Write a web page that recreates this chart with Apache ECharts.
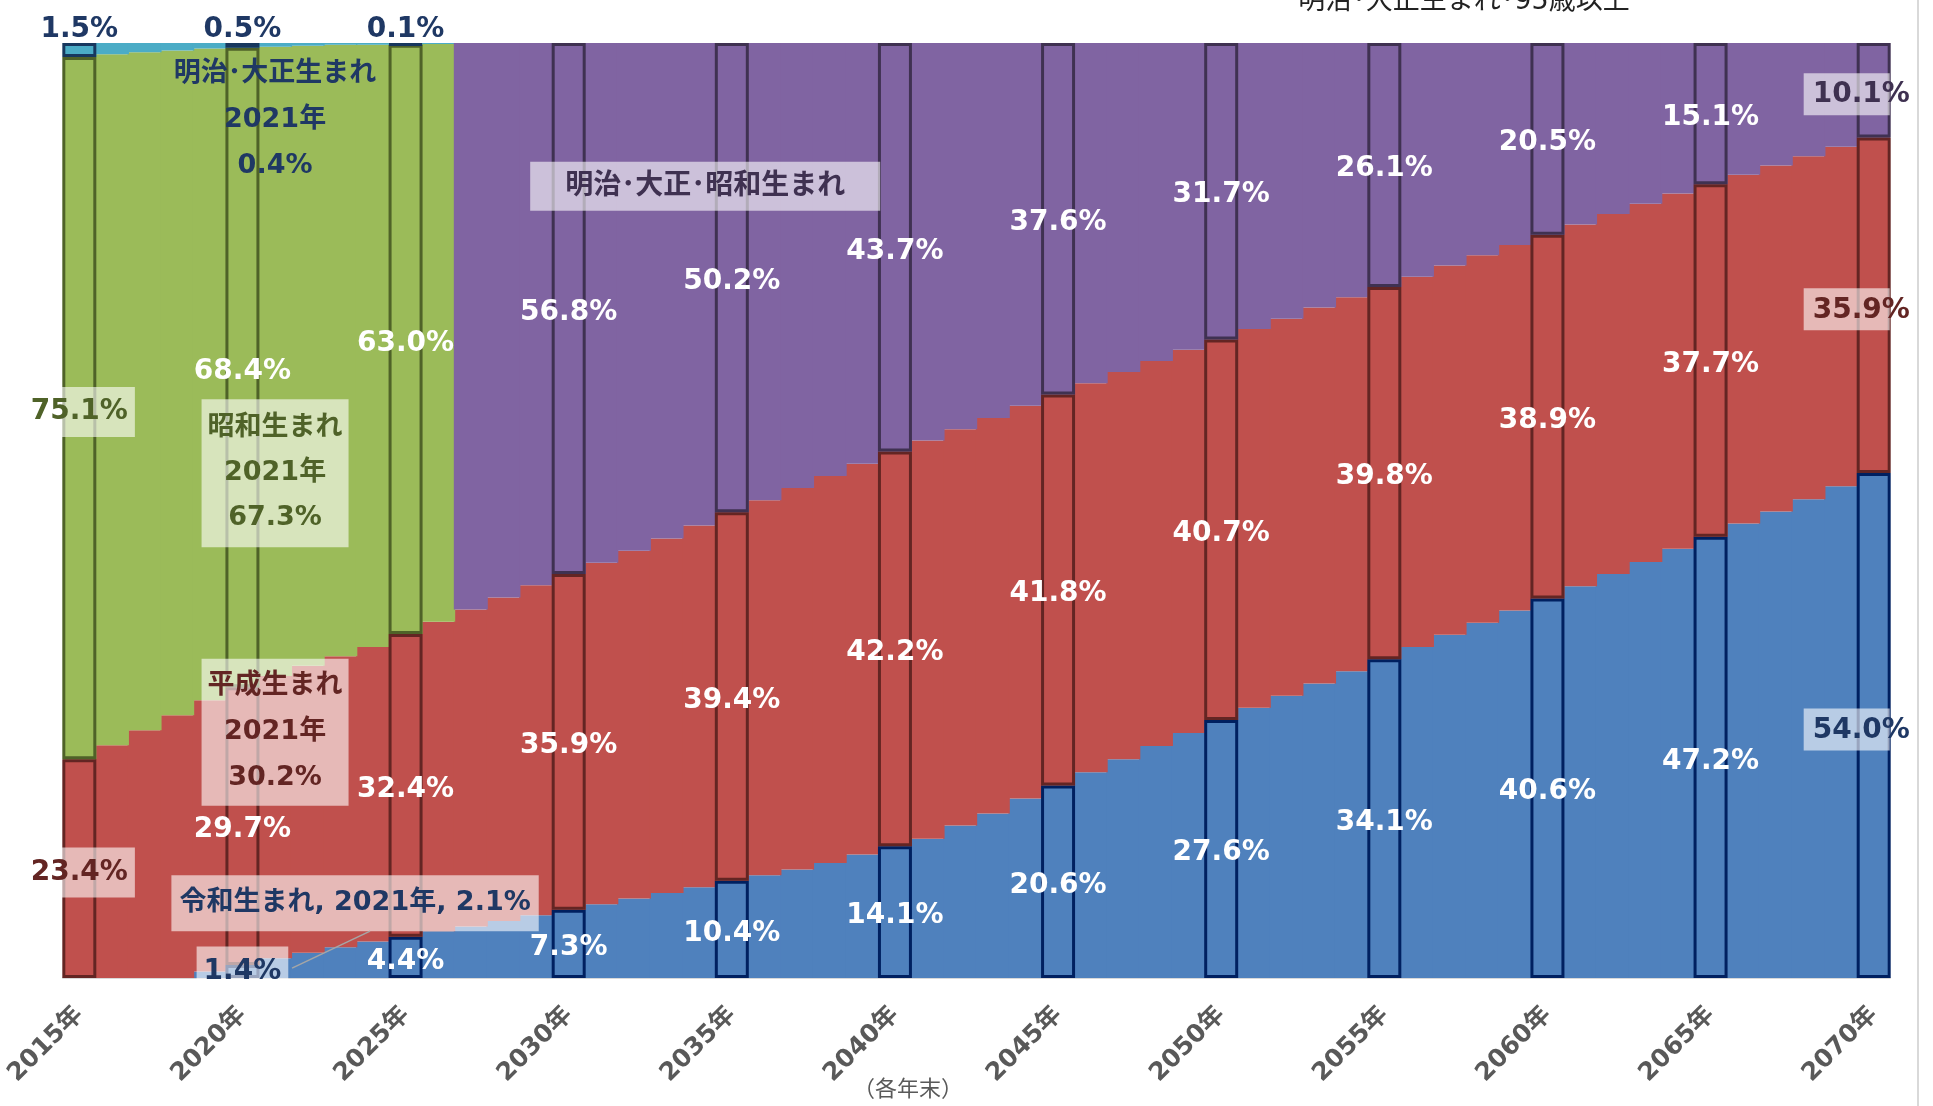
<!DOCTYPE html>
<html><head><meta charset="utf-8">
<script src="https://cdn.jsdelivr.net/npm/echarts@6/dist/echarts.min.js"></script>
<style>html,body{margin:0;padding:0;background:#fff;}#c{width:1933px;height:1106px;}</style>
</head><body><div id="c"></div>
<script>
const years = ['2015年','2016年','2017年','2018年','2019年','2020年','2021年','2022年','2023年','2024年',
 '2025年','2026年','2027年','2028年','2029年','2030年','2031年','2032年','2033年','2034年',
 '2035年','2036年','2037年','2038年','2039年','2040年','2041年','2042年','2043年','2044年',
 '2045年','2046年','2047年','2048年','2049年','2050年','2051年','2052年','2053年','2054年',
 '2055年','2056年','2057年','2058年','2059年','2060年','2061年','2062年','2063年','2064年',
 '2065年','2066年','2067年','2068年','2069年','2070年'];

const reiwa = [null,null,null,null,0.7, 1.4,2.1,2.7,3.3,3.9, 4.4,5.0,5.5,6.1,6.7, 7.3,7.9,8.5,9.1,9.7,
 10.4,11.0,11.6,12.3,13.2, 14.1,14.9,16.3,17.6,19.2, 20.6,22.0,23.4,24.8,26.2, 27.6,28.9,30.2,31.5,32.8,
 34.1,35.4,36.7,38.0,39.3, 40.6,41.9,43.2,44.5,45.9, 47.2,48.6,49.9,51.2,52.6, 54.0];

const heisei = [23.4,24.9,26.5,28.1,29.0, 29.7,30.2,30.7,31.1,31.5, 32.4,33.1,33.9,34.6,35.3, 35.9,36.5,37.2,37.9,38.7,
 39.4,40.1,40.8,41.4,41.8, 42.2,42.6,42.4,42.3,42.0, 41.8,41.6,41.4,41.2,41.0, 40.7,40.5,40.3,40.2,40.0,
 39.8,39.6,39.5,39.3,39.1, 38.9,38.7,38.5,38.3,38.0, 37.7,37.3,37.0,36.7,36.3, 35.9];

const showa = [75.1,73.9,72.5,71.1,69.7, 68.4,67.3,66.3,65.4,64.4, 63.0,61.8,null,null,null, null,null,null,null,null,
 null,null,null,null,null, null,null,null,null,null, null,null,null,null,null, null,null,null,null,null,
 null,null,null,null,null, null,null,null,null,null, null,null,null,null,null, null];

const meijiTaisho = [1.5,1.2,1.0,0.8,0.6, 0.5,0.4,0.3,0.2,0.2, 0.1,0.1,null,null,null, null,null,null,null,null,
 null,null,null,null,null, null,null,null,null,null, null,null,null,null,null, null,null,null,null,null,
 null,null,null,null,null, null,null,null,null,null, null,null,null,null,null, null];

const meijiTaishoShowa = [null,null,null,null,null, null,null,null,null,null, null,null,60.6,59.3,58.0,
 56.8,55.6,54.3,53.0,51.6, 50.2,48.9,47.6,46.3,45.0, 43.7,42.5,41.3,40.1,38.8, 37.6,36.4,35.2,34.0,32.8,
 31.7,30.6,29.5,28.3,27.2, 26.1,25.0,23.8,22.7,21.6, 20.5,19.4,18.3,17.2,16.1, 15.1,14.1,13.1,12.1,11.1, 10.1];

const FONT = "'DejaVu Sans','Noto Sans CJK JP',sans-serif";
const FILL = {r:'#4f81bd', h:'#c0504d', s:'#9bbb59', mt:'#4bacc6', p:'#8064a2'};
const EDGE = {r:'#002060', h:'#632523', s:'#4f6228', mt:'#17375e', p:'#3f3151'};
const TXT = {navy:'#1f3864', red:'#632523', olive:'#4f6228', purple:'#3f3151'};
const BOXBG = 'rgba(255,255,255,0.6)';
const BAR_W = 34;
const pct = v => Number(v).toFixed(1) + '%';

function box(color, extra){
  return Object.assign({color:color, backgroundColor:BOXBG, padding:[8,7,6,7], lineHeight:36}, extra||{});
}
// box clipped at the plot's right edge while the text runs past it (2070 column)
function edgeBox(color){
  return {
    formatter:p=>'{t|'+pct(p.value)+'}',
    offset:[-27,4],
    rich:{t:{color:color, backgroundColor:BOXBG, width:77, align:'left', padding:[8,0,6,9], lineHeight:36,
      fontSize:28, fontWeight:'bold', fontFamily:FONT}}
  };
}
function clean(v){ return v == null ? '-' : v; }

function mainSeries(name, data, key, annots){
  return {
    name:name, type:'bar', stack:'main', barWidth:BAR_W, barGap:'-100%',
    itemStyle:{color:FILL[key]},
    label:{show:false, fontFamily:FONT, fontWeight:'bold', fontSize:27},
    emphasis:{disabled:true},
    data:data.map((v,i)=>{
      if (annots && annots[i]) return Object.assign({value:clean(v)}, annots[i]);
      return clean(v);
    })
  };
}
function hlSeries(name, data, key, base, itemLabels){
  return {
    name:name, type:'bar', stack:'hl', barWidth:BAR_W, barGap:'-100%',
    itemStyle:{color:FILL[key], borderColor:EDGE[key], borderWidth:3},
    emphasis:{disabled:true},
    label:Object.assign({show:true, position:'inside', color:'#fff', fontSize:28, fontWeight:'bold',
      fontFamily:FONT, offset:[0,4], formatter:p=>pct(p.value)}, base||{}),
    data:data.map((v,i)=>{
      if (i % 5 !== 0 || v == null) return '-';
      const o = {value:v};
      if (itemLabels && itemLabels[i]) o.label = itemLabels[i];
      return o;
    })
  };
}

const annoBase = {show:true, position:'inside', fontSize:27, fontWeight:'bold', fontFamily:FONT, lineHeight:46,
  formatter:p=>p.seriesName+'\n'+p.name+'\n'+pct(p.value)};

const NAME_R = '令和生まれ', NAME_H = '平成生まれ', NAME_S = '昭和生まれ',
      NAME_MT = '明治･大正生まれ', NAME_P = '明治･大正･昭和生まれ';

const series = [
  mainSeries(NAME_R, reiwa, 'r', {6:{
    label:Object.assign({}, annoBase, box(TXT.navy, {lineHeight:40, padding:[10,8,6,8]}),
      {offset:[80,-65], formatter:p=>p.seriesName+', '+p.name+', '+pct(p.value)})
  }}),
  mainSeries(NAME_H, heisei, 'h', {6:{label:Object.assign({}, annoBase, box(TXT.red, {lineHeight:46, padding:[9,6,0,6]}), {offset:[0,-85]})}}),
  mainSeries(NAME_S, showa, 's', {6:{label:Object.assign({}, annoBase, box(TXT.olive, {lineHeight:45, padding:[13,6,0,6]}), {offset:[0,112]})}}),
  mainSeries(NAME_MT, meijiTaisho, 'mt', {6:{label:Object.assign({}, annoBase, {color:TXT.navy, offset:[0,75]})}}),
  mainSeries(NAME_P, meijiTaishoShowa, 'p', {19:{label:Object.assign({}, annoBase, box(TXT.purple, {lineHeight:35, padding:[9,35,5,35]}),
    {fontSize:28, offset:[6,-98], formatter:p=>p.seriesName})}}),

  hlSeries(NAME_R, reiwa, 'r', null, {
    5: box(TXT.navy, {offset:[0,0]}),
    55: edgeBox(TXT.navy)
  }),
  hlSeries(NAME_H, heisei, 'h', null, {
    0: box(TXT.red),
    55: edgeBox(TXT.red)
  }),
  hlSeries(NAME_S, showa, 's', null, {
    0: box(TXT.olive)
  }),
  hlSeries(NAME_MT, meijiTaisho, 'mt', {position:'top', distance:1, offset:[0,2], color:TXT.navy}, null),
  hlSeries(NAME_P, meijiTaishoShowa, 'p', null, {
    55: edgeBox(TXT.purple)
  })
];

const chart = echarts.init(document.getElementById('c'), null, {renderer:'canvas'});
chart.setOption({
  animation:false,
  backgroundColor:'#fff',
  grid:{left:63, right:43, top:43, bottom:128, containLabel:false, outerBoundsMode:'none'},
  xAxis:{type:'category', data:years,
    axisTick:{show:false},
    axisLine:{show:true, lineStyle:{color:'#d9d9d9', width:2}},
    axisLabel:{interval:4, rotate:45, color:'#595959', fontSize:25, fontWeight:'bold', fontFamily:FONT,
      margin:33, padding:[30,0,0,0]}
  },
  yAxis:{type:'value', min:0, max:100, show:false},
  series:series
});

// leader line from the 2021 令和 segment to its annotation box, placed through the chart's own scales
const anchor = chart.convertToPixel({xAxisIndex:0, yAxisIndex:0}, [6, reiwa[6] / 2]);
chart.setOption({
  graphic:[
    {type:'text', style:{text:'（各年末）', x:908, y:1090, fill:'#595959', font:"22px "+FONT, textAlign:'center', textVerticalAlign:'middle'}},
    {type:'text', style:{text:'明治･大正生まれ･95歳以上', x:1464, y:2, fill:'#222', font:"27px "+FONT, textAlign:'center', textVerticalAlign:'middle'}},
    {type:'line', shape:{x1:1918, y1:0, x2:1918, y2:1106}, style:{stroke:'#d9d9d9', lineWidth:2}},
    {type:'line', z:10, shape:{x1:anchor[0]+17, y1:anchor[1], x2:anchor[0]+95, y2:anchor[1]-37}, style:{stroke:'#a6a6a6', lineWidth:1.5}}
  ]
});
</script></body></html>
